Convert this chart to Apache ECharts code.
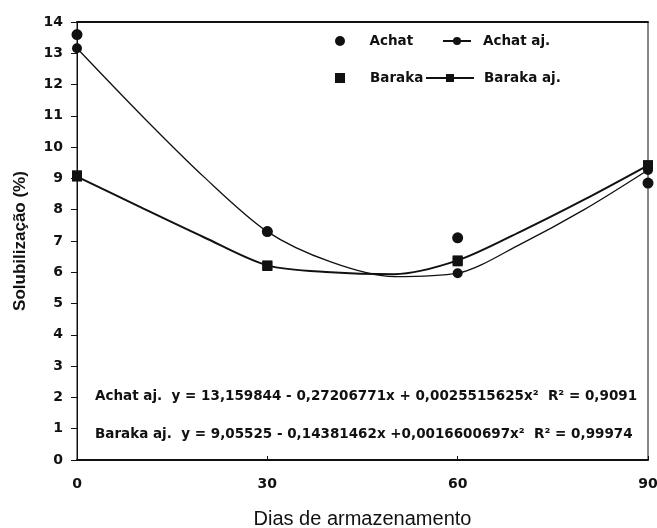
<!DOCTYPE html>
<html>
<head>
<meta charset="utf-8">
<title>Solubilização</title>
<script src="https://cdn.jsdelivr.net/npm/echarts@6/dist/echarts.min.js"></script>
<style>
  html, body { margin: 0; padding: 0; background: #fff; }
  #main { width: 657px; height: 528px; }
</style>
</head>
<body>
<div id="main"></div>
<script>
  // dias e valores observados
  var days = [0, 30, 60, 90];
  var achat = [13.6, 7.3, 7.1, 8.85];
  var baraka = [9.1, 6.2, 6.35, 9.42];
  var curveDays = [0, 10, 20, 30, 40, 50, 60, 70, 80, 90];
  var achatFit = [13.16, 11.05, 9.05, 7.30, 6.33, 5.86, 5.97, 6.91, 8.01, 9.27];
  var barakaFit = [9.06, 8.08, 7.12, 6.22, 6.00, 5.94, 6.38, 7.31, 8.33, 9.42];
  var yTicks = [0, 14, 1];
  var xTicks = [0, 90, 30];

  var eqAchat = 'Achat aj.  y = 13,159844 - 0,27206771x + 0,0025515625x²  R² = 0,9091';
  var eqBaraka = 'Baraka aj.  y = 9,05525 - 0,14381462x +0,0016600697x²  R² = 0,99974';

  var wide = '"DejaVu Sans", Verdana, sans-serif';
  var font = '"Liberation Sans", Arial, sans-serif';
  var ink = '#111';

  function pairs(xs, ys) {
    return xs.map(function (x, i) { return [x, ys[i]]; });
  }
  // marcador só nos dias de coleta
  function fitData(ys, sym) {
    return curveDays.map(function (d, i) {
      return { value: [d, ys[i]], symbol: days.indexOf(d) >= 0 ? sym : 'none' };
    });
  }

  var myChart = echarts.init(document.getElementById('main'));

  function legendAt(name, left, top, w, pad) {
    return {
      data: [name], left: left, top: top, padding: 0,
      itemWidth: w, itemHeight: 10, itemGap: 0,
      textStyle: { fontFamily: wide, fontSize: 13.5, fontWeight: 'bold', color: ink,
                   padding: [0, 0, 0, pad] },
      selectedMode: false
    };
  }

  var option = {
    animation: false,
    backgroundColor: '#fff',
    grid: { left: 77, right: 9, top: 22, bottom: 68, show: true,
            outerBoundsMode: 'none', containLabel: false,
            borderColor: ink, borderWidth: 1 },
    legend: [
      legendAt('Achat', 335, 34, 11, 19),
      legendAt('Achat aj.', 442, 34, 28, 7),
      legendAt('Baraka', 335, 71, 10, 20),
      legendAt('Baraka aj.', 425, 71, 48, 5)
    ],
    xAxis: [{
      type: 'value', min: xTicks[0], max: xTicks[1], interval: xTicks[2],
      name: 'Dias de armazenamento', nameLocation: 'middle', nameGap: 49,
      nameTextStyle: { fontFamily: font, fontSize: 20, color: ink },
      axisLine: { lineStyle: { color: ink, width: 2 } },
      axisTick: { inside: true, length: 4, lineStyle: { color: ink } },
      axisLabel: { fontFamily: wide, fontSize: 14, fontWeight: 'bold', color: ink, margin: 17 },
      splitLine: { show: false }
    }, {
      type: 'value', position: 'top', min: xTicks[0], max: xTicks[1],
      axisLine: { show: true, lineStyle: { color: ink, width: 2 } },
      axisTick: { show: false }, axisLabel: { show: false }, splitLine: { show: false }
    }],
    yAxis: {
      type: 'value', min: yTicks[0], max: yTicks[1], interval: yTicks[2],
      name: 'Solubilização (%)', nameLocation: 'middle', nameGap: 48,
      nameTextStyle: { fontFamily: font, fontSize: 17, fontWeight: 'bold', color: ink },
      axisLine: { show: true, lineStyle: { color: ink, width: 1 } },
      axisTick: { show: true, length: 6, lineStyle: { color: ink } },
      axisLabel: { fontFamily: wide, fontSize: 14, fontWeight: 'bold', color: ink, margin: 14 },
      splitLine: { show: false }
    },
    series: [
      {
        name: 'Achat aj.', type: 'line', smooth: 0.3,
        symbol: 'circle', symbolSize: 10,
        lineStyle: { color: ink, width: 1.3 }, itemStyle: { color: ink, opacity: 1 },
        data: fitData(achatFit, 'circle')
      },
      {
        name: 'Baraka aj.', type: 'line', smooth: 0.3,
        symbol: 'rect', symbolSize: 10,
        lineStyle: { color: ink, width: 2 }, itemStyle: { color: ink, opacity: 1 },
        data: fitData(barakaFit, 'rect')
      },
      {
        name: 'Achat', type: 'scatter', symbol: 'circle', symbolSize: 11,
        itemStyle: { color: ink, opacity: 1 }, z: 3,
        data: pairs(days, achat)
      },
      {
        name: 'Baraka', type: 'scatter', symbol: 'rect', symbolSize: 10,
        itemStyle: { color: ink, opacity: 1 }, z: 3,
        data: pairs(days, baraka)
      }
    ],
    graphic: [
      { type: 'text', left: 95, top: 389,
        style: { text: eqAchat, fontFamily: wide, fontSize: 13.5, fontWeight: 'bold', fill: ink } },
      { type: 'text', left: 95, top: 427,
        style: { text: eqBaraka, fontFamily: wide, fontSize: 13.5, fontWeight: 'bold', fill: ink } }
    ]
  };

  myChart.setOption(option);
</script>
</body>
</html>
